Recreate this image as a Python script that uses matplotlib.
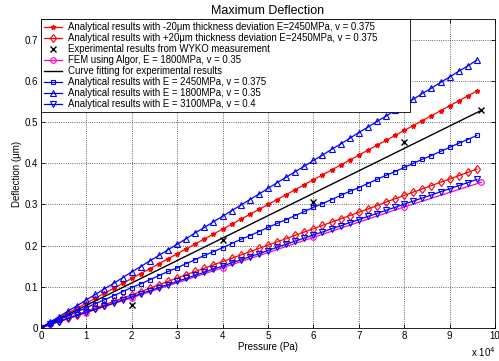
import matplotlib
matplotlib.use("Agg")
import matplotlib.pyplot as plt
from matplotlib.ticker import FuncFormatter, MultipleLocator

plt.rcParams['font.family'] = ['Liberation Sans', 'DejaVu Sans']

# pressure grid of the analytical curves (Pa)
pressure = [i * 2000 for i in range(49)]

# deflection (um)
defl_minus20 = [0.000, 0.012, 0.024, 0.036, 0.048, 0.060, 0.072, 0.084, 0.096, 0.108,
                0.120, 0.132, 0.144, 0.156, 0.168, 0.180, 0.192, 0.204, 0.216, 0.228,
                0.240, 0.252, 0.264, 0.276, 0.288, 0.300, 0.312, 0.324, 0.336, 0.348,
                0.360, 0.372, 0.384, 0.396, 0.408, 0.420, 0.432, 0.444, 0.456, 0.468,
                0.480, 0.492, 0.504, 0.516, 0.528, 0.540, 0.552, 0.564, 0.576]
defl_plus20 = [0.000, 0.008, 0.016, 0.024, 0.032, 0.040, 0.048, 0.056, 0.064, 0.072,
               0.080, 0.088, 0.096, 0.105, 0.113, 0.121, 0.129, 0.137, 0.145, 0.153,
               0.161, 0.169, 0.177, 0.185, 0.193, 0.201, 0.209, 0.217, 0.225, 0.233,
               0.241, 0.249, 0.257, 0.265, 0.273, 0.281, 0.289, 0.297, 0.306, 0.314,
               0.322, 0.330, 0.338, 0.346, 0.354, 0.362, 0.370, 0.378, 0.386]
defl_e2450 = [0.000, 0.010, 0.020, 0.029, 0.039, 0.049, 0.059, 0.068, 0.078, 0.088,
              0.098, 0.107, 0.117, 0.127, 0.137, 0.146, 0.156, 0.166, 0.176, 0.185,
              0.195, 0.205, 0.215, 0.224, 0.234, 0.244, 0.254, 0.263, 0.273, 0.283,
              0.293, 0.302, 0.312, 0.322, 0.332, 0.341, 0.351, 0.361, 0.371, 0.380,
              0.390, 0.400, 0.410, 0.419, 0.429, 0.439, 0.449, 0.458, 0.468]
defl_e1800 = [0.000, 0.014, 0.027, 0.041, 0.054, 0.068, 0.081, 0.095, 0.108, 0.122,
              0.136, 0.149, 0.163, 0.176, 0.190, 0.203, 0.217, 0.231, 0.244, 0.258,
              0.271, 0.285, 0.298, 0.312, 0.325, 0.339, 0.353, 0.366, 0.380, 0.393,
              0.407, 0.420, 0.434, 0.447, 0.461, 0.475, 0.488, 0.502, 0.515, 0.529,
              0.542, 0.556, 0.570, 0.583, 0.597, 0.610, 0.624, 0.637, 0.651]
defl_e3100 = [0.000, 0.008, 0.015, 0.023, 0.030, 0.038, 0.045, 0.053, 0.060, 0.068,
              0.075, 0.083, 0.090, 0.098, 0.105, 0.113, 0.120, 0.128, 0.135, 0.143,
              0.150, 0.158, 0.165, 0.173, 0.180, 0.188, 0.196, 0.203, 0.211, 0.218,
              0.226, 0.233, 0.241, 0.248, 0.256, 0.263, 0.271, 0.278, 0.286, 0.293,
              0.301, 0.308, 0.316, 0.323, 0.331, 0.338, 0.346, 0.353, 0.361]

# experiment (WYKO) and its fit
exp_pressure = [0, 20000, 40000, 60000, 80000, 97000]
exp_defl = [0.000, 0.056, 0.213, 0.305, 0.451, 0.529]
fit_pressure = [0, 97000]
fit_defl = [0.000, 0.529]

# FEM (Algor)
fem_pressure = [0, 10000, 20000, 40000, 60000, 80000, 97000]
fem_defl = [0.000, 0.037, 0.073, 0.146, 0.220, 0.294, 0.354]

fig = plt.figure(figsize=(4.99, 3.61), dpi=100)
ax = fig.add_axes([0.082, 0.092, 0.910, 0.854])

lw = 0.9
ax.plot(pressure, defl_minus20, 'r-*', ms=3.5, lw=lw,
        label='Analytical results with -20\u03bcm thickness deviation E=2450MPa, v = 0.375')
ax.plot(pressure, defl_plus20, 'r-d', ms=4.5, lw=lw, mfc='none', mew=0.8,
        label='Analytical results with +20\u03bcm thickness deviation E=2450MPa, v = 0.375')
ax.plot(exp_pressure, exp_defl, 'kx', ms=5, mew=1.0,
        label='Experimental results from WYKO measurement')
ax.plot(fem_pressure, fem_defl, '-o', color='#ff00cc', ms=4, lw=lw, mfc='none', mew=0.8,
        label='FEM using Algor, E = 1800MPa, v = 0.35')
ax.plot(fit_pressure, fit_defl, 'k-', lw=1.0,
        label='Curve fitting for experimental results')
ax.plot(pressure, defl_e2450, 'b-s', ms=3, lw=lw, mfc='none', mew=0.8,
        label='Analytical results with E = 2450MPa, v = 0.375')
ax.plot(pressure, defl_e1800, 'b-^', ms=4, lw=lw, mfc='none', mew=0.8,
        label='Analytical results with E = 1800MPa, v = 0.35')
ax.plot(pressure, defl_e3100, 'b-v', ms=4, lw=lw, mfc='none', mew=0.8,
        label='Analytical results with E = 3100MPa, v = 0.4')

ax.set_xlim(0, 100000)
ax.set_ylim(0, 0.75)
ax.xaxis.set_major_locator(MultipleLocator(10000))
ax.yaxis.set_major_locator(MultipleLocator(0.1))
ax.xaxis.set_major_formatter(FuncFormatter(lambda v, p: '%g' % (v / 1e4)))
ax.yaxis.set_major_formatter(FuncFormatter(lambda v, p: '%g' % round(v, 2)))
ax.tick_params(direction='in', top=True, right=True, labelsize=7, length=3, width=0.6, pad=2)
ax.grid(True, linestyle=':', color='k', lw=0.6, alpha=0.8)
for s in ax.spines.values():
    s.set_linewidth(0.6)

ax.set_title('Maximum Deflection', fontsize=9, pad=4)
ax.set_xlabel('Pressure (Pa)', fontsize=7, labelpad=1)
ax.set_ylabel('Deflection (\u03bcm)', fontsize=7, labelpad=2)
ax.text(1.0, -0.055, 'x 10$^4$', transform=ax.transAxes, ha='right', va='top', fontsize=7)

leg = ax.legend(loc='upper left', bbox_to_anchor=(0, 1, 0.813, 0), mode='expand',
                fontsize=6.9, fancybox=False, framealpha=1,
                edgecolor='k', borderaxespad=0, handlelength=1.9, handletextpad=0.6,
                labelspacing=0.1, borderpad=0.3)
leg.get_frame().set_linewidth(0.6)

fig.savefig('out.png', dpi=100)
